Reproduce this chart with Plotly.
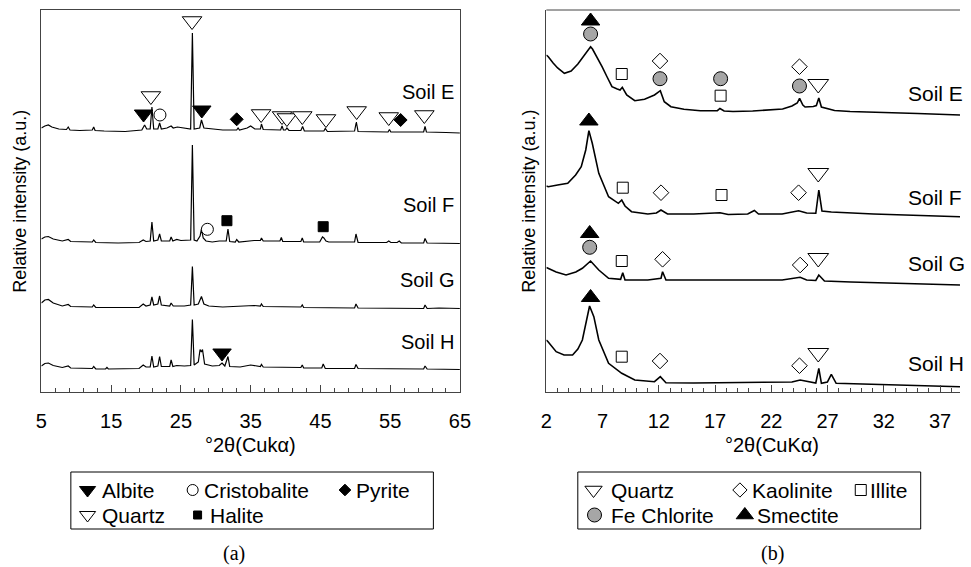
import plotly.graph_objects as go

# ---------------- data (2theta, relative intensity a.u.) ----------------
# Panel (a): bulk XRD, stacked patterns
soilE_a = [(5.0,264),(5.5,266),(6.0,267),(6.5,265),(7.5,263),(8.6,262.5),(8.85,265),(9.1,262),(10.5,261.5),
           (12.3,262),(12.5,265),(12.7,261.5),(14,261),(17,260.5),(19.4,262),(19.8,267),(20.1,263),(20.6,263),
           (20.85,285),(21.1,263),(21.7,263),(21.95,269),(22.2,263),(23.0,264),(23.6,266),(23.9,264),(24.5,265),
           (25.5,264),(26.4,263),(26.65,359),(26.9,263),(27.7,264),(27.95,272),(28.3,264),(29.5,263),(31.0,262),
           (33.0,262),(33.2,264),(33.4,262),(34.5,264),(35.0,266),(35.6,263),(36.4,263),(36.55,268),(36.8,262.5),
           (38,262),(39.3,262),(39.5,266),(39.7,262),(40.0,262),(40.2,264),(40.5,261.5),(42.2,261.5),(42.45,265.5),
           (42.7,261),(45.5,261),(45.7,263.5),(46.0,260.5),(49.9,261),(50.15,270),(50.4,260.5),(54.7,260),
           (54.9,262.5),(55.1,260),(59.8,260),(60.0,265.5),(60.2,260),(63,259.5),(65,259)]
soilF_a = [(5.0,153),(5.5,155),(6.0,155.5),(6.7,153),(8.0,151),(8.85,152.5),(9.2,150.5),(12.3,150),(12.5,152),
           (12.8,149.5),(16,149),(19,149.5),(19.6,152),(20.0,150.5),(20.6,151),(20.85,170),(21.1,151),(21.7,152),
           (21.95,158),(22.2,151),(23.4,151),(23.6,155),(23.85,151),(24.4,152.5),(25.0,151.5),(26.4,152),
           (26.65,247),(26.9,152),(27.3,151),(27.75,156),(27.95,163),(28.2,154),(28.6,151),(29.5,150),(30.5,151),
           (31.5,151),(31.75,163),(32.0,150.5),(32.8,150),(33.0,152.5),(33.3,150),(34.5,151),(35.5,151.5),
           (36.4,151.5),(36.55,154),(36.8,151),(39.2,151),(39.4,154.5),(39.6,150.5),(42.2,150.5),(42.4,154),
           (42.6,150),(44.9,150),(45.3,155),(45.5,154),(45.8,151),(46.2,150),(49.9,150),(50.1,158),(50.4,149.5),
           (54.5,149.5),(54.8,151),(55.1,149.5),(56.0,149.5),(56.3,151),(56.6,149),(59.8,149),(60.0,153.5),
           (60.3,149),(65,148.5)]
soilG_a = [(5.0,89),(5.5,92),(6.0,92.5),(6.7,89),(8.0,86),(8.85,87.5),(9.2,85.5),(12.3,85),(12.5,87),(12.8,84.5),
           (19.0,84.5),(19.6,88),(20.0,86),(20.6,87),(20.85,95),(21.1,87),(21.7,88),(21.95,96),(22.2,87),(23.4,86),
           (23.6,89),(23.9,86),(25.5,86),(26.4,87),(26.65,125.5),(26.9,87),(27.5,88),(27.95,95.5),(28.3,88),
           (29,86),(31,85),(34,86),(35.5,86.5),(36.4,86),(36.55,88),(36.8,85.5),(42.2,85),(42.4,87),(42.6,84.5),
           (49.9,84),(50.1,88),(50.4,84),(59.8,83.5),(60.0,87),(60.3,83.5),(62,84),(65,83.5)]
soilH_a = [(5.0,26),(5.5,28.5),(6.0,29),(6.7,26.5),(8.0,24.5),(8.85,26),(9.2,24),(12.3,23.5),(12.5,25.5),
           (12.8,23),(14.2,23),(14.4,24.5),(14.6,23),(19.0,23.5),(19.6,27),(20.0,25),(20.6,25),(20.85,36),
           (21.1,25),(21.7,26),(21.95,35.5),(22.2,25.5),(23.4,25.5),(23.6,32),(23.85,25.5),(24.4,26.5),(25.5,26),
           (26.4,26.5),(26.65,72.5),(26.9,27),(27.5,30),(27.75,42.5),(27.95,40),(28.1,42.5),(28.4,28),(29.5,26),
           (30.5,26.5),(30.9,29),(31.3,26),(31.75,35.5),(32.0,25.5),(33.5,25),(35,27),(36.4,25.5),(36.55,27.5),
           (36.8,25),(42.2,24.5),(42.4,27),(42.6,24),(45.2,24),(45.4,28),(45.7,23.5),(49.9,23.5),(50.1,27.5),
           (50.4,23.5),(59.8,23),(60.0,26),(60.3,23),(65,22.5)]

# Panel (b): clay fraction XRD
soilE_b = [(2.0,337),(2.17,335.3),(2.6,329),(3.0,324),(3.6,318.7),(4.2,321),(4.8,328),(5.3,336),(5.7,342),
           (5.93,345.3),(6.1,343),(6.5,335),(6.95,325.3),(7.4,315),(7.83,305.3),(8.3,303),(8.55,302),(8.75,304.7),
           (9.14,297),(9.86,291.3),(10.73,292.7),(11.61,297),(12.13,301.3),(12.48,290.3),(13.07,285.3),
           (14.23,282.7),(15.69,281.3),(17.2,281.3),(17.43,283.5),(17.8,281),(18.59,280.5),(20.34,281),(22.0,282),
           (23.0,283),(23.83,286),(24.3,289),(24.51,293.7),(24.8,287),(25.0,285),(25.73,285.5),(26.0,286.5),
           (26.22,294),(26.45,285),(27.0,283),(27.62,281.5),(29,280.5),(31.1,280),(35,278.5),(38.77,277)]
soilF_b = [(2.0,206),(2.17,205.3),(3.0,207),(3.9,208.7),(4.6,217),(5.1,225.3),(5.5,242),(5.65,252),(5.78,261.3),
           (6.08,248.7),(6.66,218.7),(7.53,195.3),(8.4,188.7),(8.7,192),(8.99,186),(9.57,180.3),(11.02,178),
           (11.78,179),(12.19,182),(12.77,178),(15.1,178),(17.43,179.3),(18.16,177.5),(19.9,178),(20.49,181.5),
           (20.86,178),(22.96,178),(24.42,181.3),(25.14,179),(25.95,178.7),(26.22,202),(26.5,181),(27.33,180),
           (31.08,178),(38.77,175.3)]
soilG_b = [(2.0,124.5),(2.15,123.7),(2.87,120),(3.75,117),(4.62,120),(5.2,123.7),(5.93,131),(6.66,122),
           (7.53,113.7),(8.6,112.7),(8.79,119.3),(8.99,112),(11.02,112),(12.19,113.7),(12.33,120.3),(12.63,112),
           (15.1,112),(19.18,112),(22.96,112),(24.56,114.7),(25.14,112),(25.95,111.5),(26.22,117),(26.72,111),
           (29.07,110),(38.77,107)]
soilH_b = [(2.0,52),(2.15,50.3),(2.87,40.3),(3.57,37),(4.33,37),(4.8,43),(5.2,52),(5.64,75.3),(5.84,86),
           (6.22,75.3),(6.66,52),(7.53,28.7),(8.7,18.7),(9.86,12),(11.61,10.3),(12.13,15.3),(12.63,9.3),(15.1,9),
           (22.09,9.3),(23.83,10),(24.56,12),(25.95,9),(26.22,23.7),(26.45,8.7),(26.98,10),(27.33,17.7),
           (27.76,8.7),(32.57,7),(38.77,5.3)]

# Phase markers (2theta, height)
quartz_a_x = [26.6, 20.7, 36.5, 39.5, 40.2, 42.4, 45.8, 50.2, 54.8, 59.9]
quartz_a_y = [371, 296, 278, 276, 274, 276, 273, 281, 275, 277]
albite_x = [19.65, 28.0, 30.9]
albite_y = [278, 282, 39]
cristobalite_x = [22.0, 28.8]
cristobalite_y = [277, 162.7]
pyrite_x = [33.0, 56.5]
pyrite_y = [272.7, 272]
halite_x = [31.6, 45.4]
halite_y = [171.3, 165.3]

smectite_x = [5.93, 5.78, 5.85, 5.93]
smectite_y = [371, 271, 158.5, 94.5]
chlorite_x = [5.93, 12.1, 17.49, 24.5, 5.85]
chlorite_y = [358, 313.3, 313.3, 306, 144.7]
kaolinite_x = [12.1, 24.5, 12.19, 24.42, 12.33, 24.56, 12.1, 24.5]
kaolinite_y = [331, 325.3, 199.3, 199.3, 132.7, 127, 31, 26.3]
illite_x = [8.7, 17.49, 8.79, 17.57, 8.7, 8.7]
illite_y = [318, 296.3, 204.3, 197, 131, 35.3]
quartz_b_x = [26.17, 26.17, 26.17, 26.17]
quartz_b_y = [308, 219, 134, 39]

soil_names = ["Soil E", "Soil F", "Soil G", "Soil H"]
label_a_y = [300, 187, 112, 50.5]
label_b_y = [298.5, 195, 129, 29]

# ---------------- figure ----------------
W, H = 971, 567
def px(x):
    return x / W
def py(y):
    return 1 - y / H

FONT = "Liberation Sans, Arial, sans-serif"
NARROW = "Liberation Sans Narrow, Arial Narrow, Liberation Sans, sans-serif"
AX = "#444444"

fig = go.Figure()

def add_curve(pts, xa, ya, lw):
    x, y = zip(*pts)
    fig.add_trace(go.Scatter(x=list(x), y=list(y), mode="lines", xaxis=xa, yaxis=ya,
                             line=dict(color="black", width=lw), hoverinfo="skip", showlegend=False))

for pts in (soilE_a, soilF_a, soilG_a, soilH_a):
    add_curve(pts, "x", "y", 1.2)
for pts in (soilE_b, soilF_b, soilG_b, soilH_b):
    add_curve(pts, "x2", "y2", 1.6)

def add_markers(x, y, xa, ya, symbol, size, fill, lw=1):
    fig.add_trace(go.Scatter(x=x, y=y, mode="markers", xaxis=xa, yaxis=ya, cliponaxis=False,
                             marker=dict(symbol=symbol, size=size, color=fill,
                                         line=dict(color="black", width=lw)),
                             hoverinfo="skip", showlegend=False))

add_markers(quartz_a_x, quartz_a_y, "x", "y", "triangle-down", 17, "white")
add_markers(albite_x, albite_y, "x", "y", "triangle-down", 16, "black")
add_markers(cristobalite_x, cristobalite_y, "x", "y", "circle", 12, "white")
add_markers(pyrite_x, pyrite_y, "x", "y", "diamond", 10, "black")
add_markers(halite_x, halite_y, "x", "y", "square", 10, "black")

add_markers(smectite_x, smectite_y, "x2", "y2", "triangle-up", 16, "black")
add_markers(chlorite_x, chlorite_y, "x2", "y2", "circle", 14, "#a6a6a6")
add_markers(kaolinite_x, kaolinite_y, "x2", "y2", "diamond", 12, "white")
add_markers(illite_x, illite_y, "x2", "y2", "square", 11, "white")
add_markers(quartz_b_x, quartz_b_y, "x2", "y2", "triangle-down", 18, "white")

# legend glyphs (placed on an invisible full-page axis, pixel units)
ROW1, ROW2 = 490, 515
leg_a = [(83, ROW1, "triangle-down", 14, "black", "Albite", 96),
         (190, ROW1, "circle", 11, "white", "Cristobalite", 199),
         (345, ROW1, "diamond", 9, "black", "Pyrite", 354),
         (83, ROW2, "triangle-down", 14, "white", "Quartz", 96),
         (195, ROW2, "square", 8, "black", "Halite", 206)]
leg_b = [(598, ROW1, "triangle-down", 15, "white", "Quartz", 614),
         (747, ROW1, "diamond", 11, "white", "Kaolinite", 757),
         (870, ROW1, "square", 11, "white", "Illite", 877),
         (599, ROW2, "circle", 14, "#a6a6a6", "Fe Chlorite", 614),
         (752, ROW2, "triangle-up", 15, "black", "Smectite", 762)]

annotations = []
for entries in (leg_a, leg_b):
    for (lx, ly, sym, sz, col, txt, tx) in entries:
        fig.add_trace(go.Scatter(x=[lx], y=[ly], mode="markers", xaxis="x3", yaxis="y3", cliponaxis=False,
                                 marker=dict(symbol=sym, size=sz, color=col, line=dict(color="black", width=1)),
                                 hoverinfo="skip", showlegend=False))
        annotations.append(dict(x=px(tx), y=py(ly), xref="paper", yref="paper", text=txt, showarrow=False,
                                xanchor="left", yanchor="middle", font=dict(size=21, family=NARROW, color="black")))

for name, yy in zip(soil_names, label_a_y):
    annotations.append(dict(x=64.4, y=yy, xref="x", yref="y", text=name, showarrow=False,
                            xanchor="right", yanchor="middle", font=dict(size=20, family=FONT, color="black")))
for name, yy in zip(soil_names, label_b_y):
    annotations.append(dict(x=34.0, y=yy, xref="x2", yref="y2", text=name, showarrow=False,
                            xanchor="left", yanchor="middle", font=dict(size=21, family=FONT, color="black")))

for xx in (14, 532):
    annotations.append(dict(x=px(xx), y=py(201), xref="paper", yref="paper", text="Relative intensity (a.u.)",
                            textangle=-90, showarrow=False, xanchor="center", yanchor="middle",
                            font=dict(size=18, family=FONT, color="black")))
annotations.append(dict(x=px(249), y=py(445), xref="paper", yref="paper", text="°2θ(Cukα)", showarrow=False,
                        xanchor="center", yanchor="middle", font=dict(size=20, family=NARROW, color="black")))
annotations.append(dict(x=px(780), y=py(445), xref="paper", yref="paper", text="°2θ(CuKα)", showarrow=False,
                        xanchor="center", yanchor="middle", font=dict(size=20, family=NARROW, color="black")))
annotations.append(dict(x=px(232), y=py(553), xref="paper", yref="paper", text="(a)", showarrow=False,
                        xanchor="center", yanchor="middle", font=dict(size=20, family="Liberation Serif, serif", color="black")))
annotations.append(dict(x=px(780), y=py(553), xref="paper", yref="paper", text="(b)", showarrow=False,
                        xanchor="center", yanchor="middle", font=dict(size=20, family="Liberation Serif, serif", color="black")))

shapes = [
    dict(type="rect", xref="paper", yref="paper", x0=px(66), x1=px(435), y0=py(529), y1=py(472),
         line=dict(color="black", width=1), fillcolor="rgba(0,0,0,0)"),
    dict(type="rect", xref="paper", yref="paper", x0=px(582), x1=px(931), y0=py(529), y1=py(472),
         line=dict(color="black", width=1), fillcolor="rgba(0,0,0,0)"),
    dict(type="line", xref="paper", yref="paper", x0=px(550), x1=1, y0=py(10), y1=py(10),
         line=dict(color=AX, width=1)),
]

ydom = [py(392), py(10)]
common_x = dict(showline=True, linecolor=AX, linewidth=1, ticks="inside", ticklen=7, tickcolor=AX, tickwidth=1,
                showgrid=False, zeroline=False, tickfont=dict(size=20, family=NARROW, color="black"),
                ticklabelstandoff=11)
common_y = dict(showline=True, linecolor=AX, linewidth=1, showticklabels=False, ticks="", showgrid=False,
                zeroline=False, range=[0, 382], domain=ydom)

fig.update_layout(
    width=W, height=H, margin=dict(l=0, r=0, t=0, b=0), autosize=False,
    paper_bgcolor="white", plot_bgcolor="rgba(0,0,0,0)", showlegend=False,
    font=dict(family=FONT, color="black"),
    xaxis=dict(domain=[px(36), px(462)], range=[5, 65], anchor="y", mirror=True, tick0=5, dtick=10,
               minor=dict(tick0=5, dtick=2, ticks="inside", ticklen=4, tickcolor=AX, showgrid=False), **common_x),
    yaxis=dict(anchor="x", mirror=True, **common_y),
    xaxis2=dict(domain=[px(550), 1], range=[2, 38.77], anchor="y2", tick0=2, dtick=5,
                minor=dict(tick0=2, dtick=1, ticks="inside", ticklen=4, tickcolor=AX, showgrid=False), **common_x),
    yaxis2=dict(anchor="x2", **common_y),
    xaxis3=dict(domain=[0, 1], range=[0, W], anchor="y3", visible=False, fixedrange=True),
    yaxis3=dict(domain=[0, 1], range=[H, 0], anchor="x3", visible=False, fixedrange=True),
    annotations=annotations, shapes=shapes,
)

fig.write_html("out.html", config={"displayModeBar": False},
               post_script="document.body.style.margin='0';document.body.style.overflow='hidden';")
